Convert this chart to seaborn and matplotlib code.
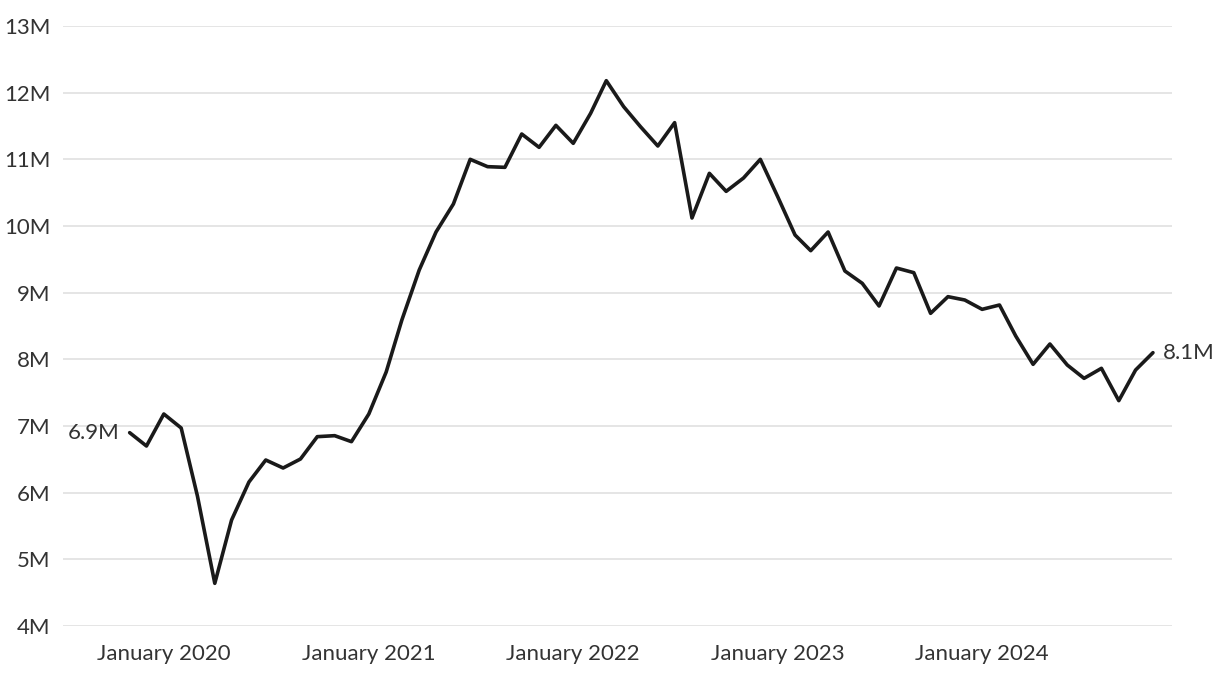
import numpy as np
import pandas as pd
import seaborn as sns
import matplotlib.pyplot as plt
import matplotlib.ticker as mticker

# monthly values, Nov 2019 - Nov 2024 (millions)
start_month = '2019-11-01'
values = [6.90, 6.70, 7.18, 6.97, 5.95, 4.64, 5.59, 6.16, 6.49, 6.37,
          6.505, 6.84, 6.855, 6.765, 7.18, 7.81, 8.59, 9.34, 9.91, 10.33,
          11.00, 10.89, 10.88, 11.38, 11.18, 11.51, 11.24, 11.69, 12.18, 11.79,
          11.49, 11.20, 11.55, 10.12, 10.79, 10.52, 10.72, 11.00, 10.44, 9.865,
          9.63, 9.91, 9.325, 9.14, 8.80, 9.37, 9.30, 8.69, 8.94, 8.89,
          8.75, 8.815, 8.35, 7.925, 8.23, 7.915, 7.715, 7.865, 7.38, 7.84,
          8.10]
xtick_dates = ['2020-01-01', '2021-01-01', '2022-01-01', '2023-01-01', '2024-01-01']
xtick_labels = ['January 2020', 'January 2021', 'January 2022', 'January 2023', 'January 2024']
yticks = [4, 5, 6, 7, 8, 9, 10, 11, 12, 13]
first_label = '6.9M'
last_label = '8.1M'

df = pd.DataFrame({'date': pd.date_range(start_month, periods=len(values), freq='MS'),
                   'value': values})

sns.set_style('white')
plt.rcParams['font.family'] = ['Source Sans Pro', 'Lato', 'DejaVu Sans']
text_color = '#333333'

fig = plt.figure(figsize=(12.2, 6.78), dpi=100)
ax = fig.add_axes([63 / 1220, 52 / 678, (1172 - 63) / 1220, (626 - 26) / 678])

sns.lineplot(data=df, x='date', y='value', color='#1a1a1a', linewidth=2.6, ax=ax, zorder=5)

ax.set_ylim(4, 13)
ax.set_yticks(yticks)
ax.yaxis.set_major_formatter(mticker.FuncFormatter(lambda v, p: '{:d}M'.format(int(v))))
ax.grid(axis='y', color='#e3e3e3', linewidth=1.3)
ax.grid(axis='x', visible=False)
ax.set_axisbelow(True)

ax.set_xlim(df['date'].iloc[0] - pd.Timedelta(days=119), df['date'].iloc[-1] + pd.Timedelta(days=34))
ax.set_xticks([pd.to_datetime(d) for d in xtick_dates])
ax.set_xticklabels(xtick_labels)

for s in ax.spines.values():
    s.set_visible(False)
ax.tick_params(axis='both', length=0, labelsize=16, colors=text_color)
ax.tick_params(axis='y', pad=9)
ax.tick_params(axis='x', pad=13)
ax.set_xlabel('')
ax.set_ylabel('')

# end labels
ax.annotate(first_label, (df['date'].iloc[0], df['value'].iloc[0]), xytext=(-7, 0),
            textcoords='offset points', ha='right', va='center', fontsize=16, color=text_color)
ax.annotate(last_label, (df['date'].iloc[-1], df['value'].iloc[-1]), xytext=(7, 0),
            textcoords='offset points', ha='left', va='center', fontsize=16, color=text_color)

plt.savefig('out.png', dpi=100)
